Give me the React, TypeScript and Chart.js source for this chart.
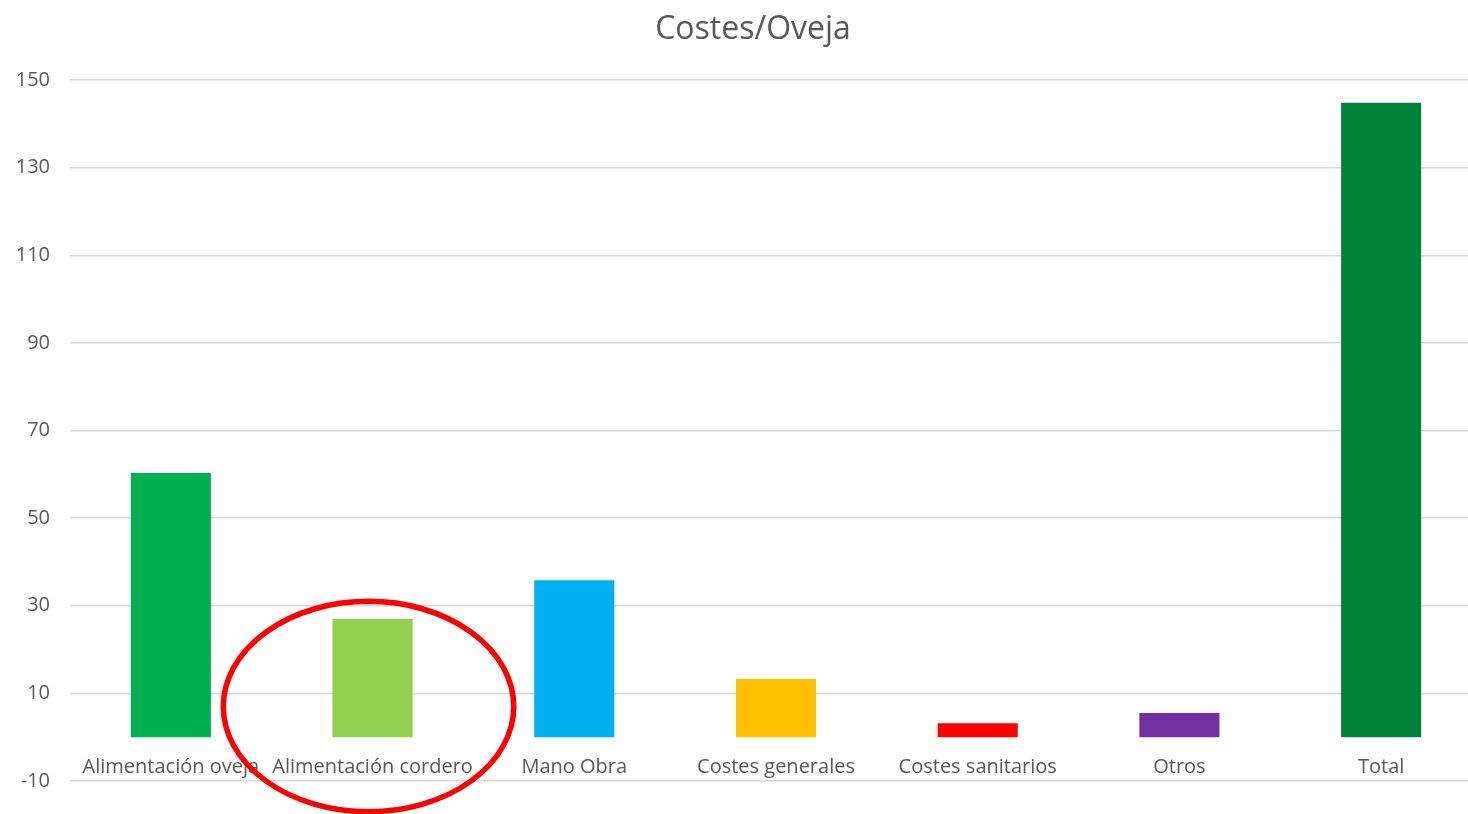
import React, { useEffect, useRef } from "react";
import { Chart, registerables } from "chart.js";

Chart.register(...registerables);

const categories = [
  "Alimentación oveja",
  "Alimentación cordero",
  "Mano Obra",
  "Costes generales",
  "Costes sanitarios",
  "Otros",
  "Total",
];
const values = [60.3, 27.0, 35.8, 13.3, 3.2, 5.5, 144.8];
const barColors = ["#00b050", "#92d050", "#00b0f0", "#ffc000", "#ff0000", "#7030a0", "#00823b"];
const yMin = -10;
const yMax = 150;
const yStep = 20;
const titleText = "Costes/Oveja";
const highlightIndex = 1;

const FONT = "'Open Sans', 'DejaVu Sans', sans-serif";
const TEXT = "#595959";

const circlePlugin = {
  id: "circleHighlight",
  afterLayout(chart: any) {
    // let the y tick labels use the left padding area without clipping
    if (chart.scales.y) chart.scales.y.left = 0;
  },
  afterDraw(chart: any) {
    const meta = chart.getDatasetMeta(0);
    const bar = meta.data[highlightIndex];
    if (!bar) return;
    const xs = chart.scales.x;
    const ys = chart.scales.y;
    const catW = xs.getPixelForValue(1) - xs.getPixelForValue(0);
    const cx = bar.x - catW * 0.02;
    const cy = ys.getPixelForValue(7);
    const rx = catW * 0.72;
    const ry = ys.getPixelForValue(0) - ys.getPixelForValue(24);
    const ctx = chart.ctx;
    ctx.save();
    ctx.beginPath();
    ctx.ellipse(cx, cy, rx, ry, 0, 0, Math.PI * 2);
    ctx.strokeStyle = "#ff0000";
    ctx.lineWidth = 5.5;
    ctx.stroke();
    ctx.restore();
  },
};

export default function App() {
  const ref = useRef<HTMLCanvasElement>(null);
  useEffect(() => {
    document.body.style.margin = "0";
    document.body.style.overflow = "hidden";
    const chart = new Chart(ref.current!, {
      type: "bar",
      data: {
        labels: categories,
        datasets: [
          {
            data: values,
            backgroundColor: barColors,
            barPercentage: 0.397,
            categoryPercentage: 1,
          },
        ],
      },
      options: {
        animation: false,
        responsive: false,
        maintainAspectRatio: false,
        layout: { padding: { left: 24, right: 24, top: 0, bottom: 33 } },
        plugins: {
          legend: { display: false },
          tooltip: { enabled: false },
          title: {
            display: true,
            text: titleText,
            color: TEXT,
            font: { family: FONT, size: 32, weight: "normal" },
            padding: { top: 11, bottom: 30.6 },
          },
        },
        scales: {
          x: {
            position: { y: 0 } as any,
            grid: { display: false, drawTicks: false },
            border: { display: false },
            ticks: {
              color: TEXT,
              font: { family: FONT, size: 20 },
              autoSkip: false,
              maxRotation: 0,
              minRotation: 0,
              padding: 18,
            },
          },
          y: {
            min: yMin,
            max: yMax,
            grid: { color: "#d9d9d9", lineWidth: 1.5, drawTicks: false },
            border: { display: false },
            ticks: {
              stepSize: yStep,
              color: TEXT,
              font: { family: FONT, size: 20 },
              padding: 20,
            },
            afterFit(scale: any) {
              scale.width = 46;
            },
          },
        },
      },
      plugins: [circlePlugin],
    });
    return () => chart.destroy();
  }, []);
  return (
    <div style={{ width: 1468, height: 814, overflow: "hidden", background: "#fff" }}>
      <canvas ref={ref} width={1506} height={814} style={{ display: "block" }} />
    </div>
  );
}
